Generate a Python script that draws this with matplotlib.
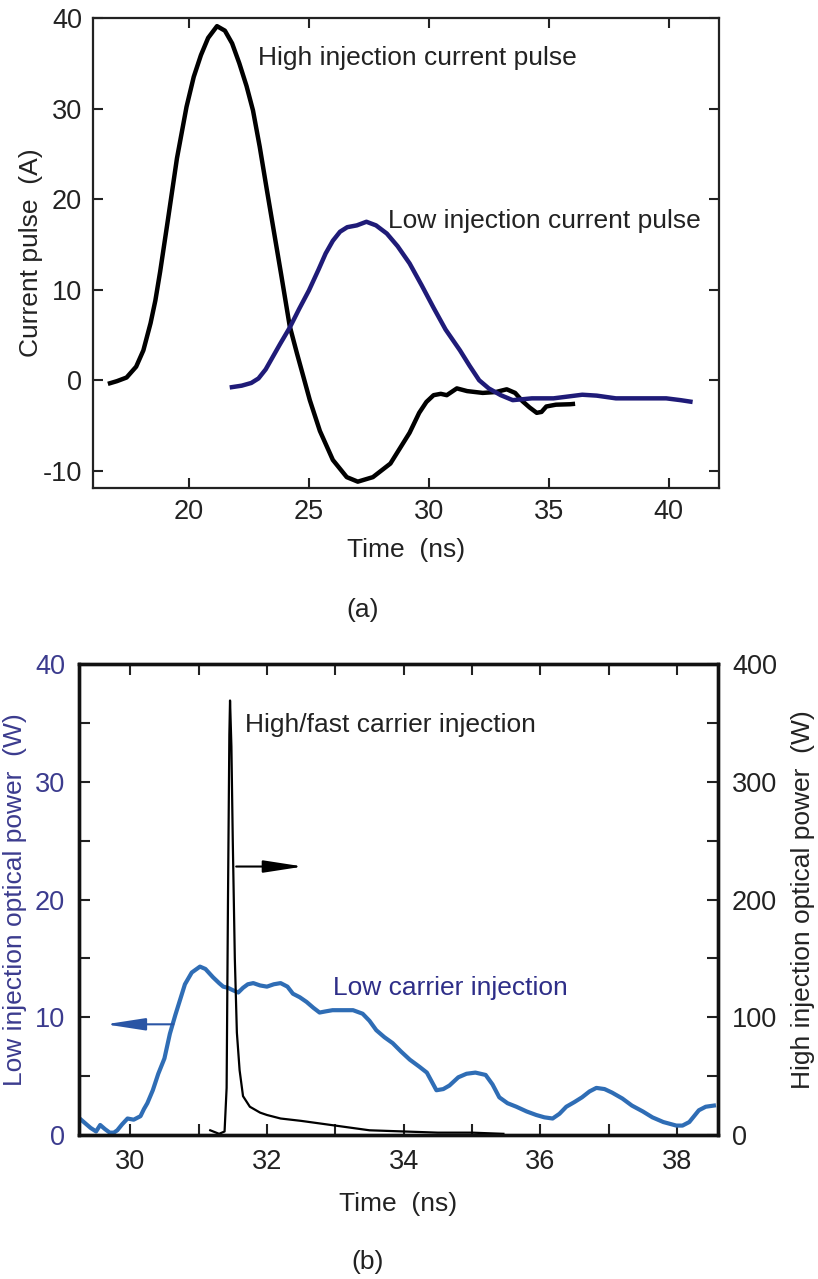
# -*- coding: utf-8 -*-
import matplotlib
matplotlib.use('Agg')  # без GUI
import matplotlib.pyplot as plt
from matplotlib.ticker import MultipleLocator

plt.rcParams['font.family'] = ['Liberation Sans', 'DejaVu Sans']
plt.rcParams['axes.unicode_minus'] = False

# --- (a) импульсы тока накачки ---
t_high_pulse = [16.62, 17.0, 17.4, 17.8, 18.1, 18.4, 18.6, 18.8, 19.1, 19.5,
                19.9, 20.2, 20.5, 20.8, 21.17, 21.5, 21.8, 22.1, 22.4, 22.67,
                22.95, 23.25, 23.55, 23.85, 24.2, 24.5, 24.75, 25.04, 25.46, 26.0,
                26.58, 27.04, 27.67, 28.4, 29.2, 29.6, 29.9, 30.2, 30.5, 30.75,
                31.17, 31.6, 32.25, 32.8, 33.25, 33.6, 33.9, 34.2, 34.5, 34.7,
                34.9, 35.3, 35.9, 36.1]
i_high_pulse = [-0.4, -0.1, 0.3, 1.5, 3.3, 6.3, 8.8, 12.0, 17.3, 24.5,
                30.2, 33.5, 35.9, 37.8, 39.1, 38.6, 37.2, 35.0, 32.5, 29.8,
                25.8, 21.0, 16.3, 11.6, 6.0, 3.0, 0.6, -2.2, -5.6, -8.8,
                -10.7, -11.2, -10.7, -9.2, -5.8, -3.6, -2.4, -1.65, -1.5, -1.65,
                -0.9, -1.2, -1.4, -1.3, -1.0, -1.4, -2.3, -3.0, -3.6, -3.5,
                -2.9, -2.7, -2.65, -2.6]

t_low_pulse = [21.7, 22.2, 22.6, 22.9, 23.2, 23.5, 23.8, 24.2, 24.6, 25.0,
               25.4, 25.7, 26.0, 26.3, 26.6, 27.0, 27.4, 27.8, 28.25, 28.7,
               29.2, 29.7, 30.2, 30.7, 31.3, 31.7, 32.1, 32.5, 33.0, 33.5,
               33.9, 34.3, 35.2, 35.8, 36.4, 37.0, 37.8, 38.8, 39.9, 40.5,
               41.0]
i_low_pulse = [-0.8, -0.6, -0.3, 0.2, 1.2, 2.6, 4.0, 5.8, 7.9, 9.9,
               12.2, 14.0, 15.4, 16.4, 16.9, 17.1, 17.5, 17.1, 16.2, 14.8,
               12.9, 10.5, 8.0, 5.6, 3.3, 1.6, 0.0, -0.9, -1.65, -2.2,
               -2.1, -2.0, -2.0, -1.8, -1.6, -1.7, -2.0, -2.0, -2.0, -2.2,
               -2.4]

# --- (b) оптическая мощность ---
t_low_opt = [29.26, 29.34, 29.42, 29.50, 29.56, 29.63, 29.70, 29.76, 29.81, 29.88,
             29.96, 30.05, 30.15, 30.20, 30.25, 30.33, 30.41, 30.50, 30.58, 30.66,
             30.73, 30.80, 30.90, 31.02, 31.10, 31.21, 31.30, 31.36, 31.43, 31.50,
             31.58, 31.65, 31.72, 31.80, 31.90, 32.00, 32.10, 32.20, 32.30, 32.38,
             32.48, 32.58, 32.68, 32.77, 32.86, 32.96, 33.10, 33.26, 33.40, 33.50,
             33.60, 33.72, 33.84, 33.96, 34.09, 34.23, 34.34, 34.48, 34.58, 34.67,
             34.80, 34.92, 35.05, 35.20, 35.30, 35.40, 35.52, 35.65, 35.80, 35.94,
             36.06, 36.18, 36.28, 36.38, 36.50, 36.61, 36.72, 36.82, 36.94, 37.05,
             37.20, 37.34, 37.50, 37.64, 37.80, 37.99, 38.08, 38.18, 38.25, 38.32,
             38.42, 38.54]
p_low_opt = [1.4, 1.0, 0.6, 0.3, 0.85, 0.5, 0.2, 0.2, 0.4, 0.9,
             1.4, 1.3, 1.6, 2.2, 2.7, 3.8, 5.2, 6.5, 8.6, 10.2,
             11.5, 12.8, 13.8, 14.3, 14.1, 13.4, 12.9, 12.6, 12.5, 12.3,
             12.1, 12.5, 12.8, 12.9, 12.7, 12.6, 12.8, 12.9, 12.6, 12.0,
             11.7, 11.3, 10.8, 10.4, 10.5, 10.6, 10.6, 10.6, 10.3, 9.7,
             8.9, 8.3, 7.8, 7.1, 6.4, 5.8, 5.3, 3.8, 3.9, 4.2,
             4.9, 5.2, 5.3, 5.1, 4.3, 3.2, 2.7, 2.4, 2.0, 1.7,
             1.5, 1.4, 1.8, 2.4, 2.8, 3.2, 3.7, 4.0, 3.9, 3.6,
             3.1, 2.5, 2.0, 1.5, 1.1, 0.8, 0.8, 1.1, 1.6, 2.1,
             2.4, 2.5]

t_high_opt = [31.17, 31.30, 31.38, 31.41, 31.43, 31.45, 31.46, 31.48, 31.50, 31.53,
              31.56, 31.60, 31.65, 31.75, 31.90, 32.00, 32.20, 32.50, 33.00, 33.50,
              34.00, 34.50, 35.00, 35.46]
p_high_opt = [4, 1, 3, 40, 200, 340, 369, 330, 250, 150,
              87, 55, 33, 24, 19, 17, 14, 12, 8, 4,
              3, 2, 2, 1]

NAVY = '#1f1b78'
TRACE_BLUE = '#2f6db5'
AXIS_BLUE = '#3b3b8e'
DARK = '#222222'
FS = 19      # подписи осей и текст
FS_TICK = 19.5

fig = plt.figure(figsize=(8.18, 12.79), dpi=100)
W, H = 818, 1279

# ================= (a) =================
ax_a = fig.add_axes([93 / W, 1 - 488 / H, 626 / W, 470 / H])
ax_a.plot(t_high_pulse, i_high_pulse, color='black', lw=3.2,
          solid_joinstyle='round', solid_capstyle='butt')
ax_a.plot(t_low_pulse, i_low_pulse, color=NAVY, lw=3.2,
          solid_joinstyle='round', solid_capstyle='butt')
ax_a.set_xlim(16, 42.1)
ax_a.set_ylim(-11.9, 40)
ax_a.set_xticks([20, 25, 30, 35, 40])
ax_a.set_yticks([-10, 0, 10, 20, 30, 40])
ax_a.tick_params(direction='in', length=7, width=1.5, top=True, right=True,
                 labelsize=FS_TICK, pad=8, colors=DARK)
for sp in ax_a.spines.values():
    sp.set_linewidth(1.6)
    sp.set_color(DARK)
ax_a.set_xlabel('Time  (ns)', fontsize=FS, color=DARK, labelpad=9)
ax_a.set_ylabel('Current pulse  (A)', fontsize=FS, color=DARK, labelpad=0)
ax_a.text(22.9, 35.6, 'High injection current pulse', fontsize=FS, color=DARK,
          va='center', ha='left')
ax_a.text(28.3, 17.6, 'Low injection current pulse', fontsize=FS, color=DARK,
          va='center', ha='left')
fig.text(363 / W, 1 - 610 / H, '(a)', fontsize=FS, ha='center', va='center', color=DARK)

# ================= (b) =================
ax_b = fig.add_axes([79 / W, 1 - 1135 / H, 639 / W, 471 / H])
ax_b.plot(t_low_opt, p_low_opt, color='#6a55a8', lw=1.2, alpha=0.8)
ax_b.plot(t_low_opt, p_low_opt, color=TRACE_BLUE, lw=3.0, solid_joinstyle='round')
ax_b.set_xlim(29.25, 38.6)
ax_b.set_ylim(0, 40)
ax_b.xaxis.set_major_locator(MultipleLocator(2))
ax_b.xaxis.set_minor_locator(MultipleLocator(1))
ax_b.yaxis.set_major_locator(MultipleLocator(10))
ax_b.yaxis.set_minor_locator(MultipleLocator(5))
ax_b.tick_params(axis='x', which='both', direction='in', length=8, width=1.5,
                 top=True, bottom=True, labelsize=FS_TICK, pad=10, colors=DARK)
ax_b.tick_params(axis='y', which='both', direction='in', length=8, width=1.5,
                 left=True, right=False, labelsize=FS_TICK, pad=10, colors=DARK,
                 labelcolor=AXIS_BLUE)
ax_b.set_xlabel('Time  (ns)', fontsize=FS, color=DARK, labelpad=12)
ax_b.set_ylabel('Low injection optical power  (W)', fontsize=FS, color=AXIS_BLUE,
                labelpad=6)

ax_r = ax_b.twinx()
ax_r.plot(t_high_opt, p_high_opt, color='black', lw=1.6)
ax_r.set_ylim(0, 400)
ax_r.yaxis.set_major_locator(MultipleLocator(100))
ax_r.yaxis.set_minor_locator(MultipleLocator(50))
ax_r.tick_params(axis='y', which='both', direction='in', length=8, width=1.5,
                 right=True, labelsize=FS_TICK, pad=10, colors=DARK)
ax_r.set_ylabel('High injection optical power  (W)', fontsize=FS, color=DARK,
                labelpad=10)
for a in (ax_b, ax_r):
    for sp in a.spines.values():
        sp.set_linewidth(2.4)
        sp.set_color('#111111')

# стрелки к осям
arrow_style = '-|>,head_length=1.1,head_width=0.17'
ax_r.annotate('', xy=(32.53, 228), xytext=(31.55, 228),
              arrowprops=dict(arrowstyle=arrow_style, color='black', lw=1.5,
                              mutation_scale=22, shrinkA=0, shrinkB=0))
ax_b.annotate('', xy=(29.64, 9.4), xytext=(30.63, 9.4),
              arrowprops=dict(arrowstyle=arrow_style, color='#2a55a5', lw=1.5,
                              mutation_scale=22, shrinkA=0, shrinkB=0))

ax_r.text(31.68, 348, 'High/fast carrier injection', fontsize=FS, color=DARK,
          va='center', ha='left')
ax_b.text(32.96, 12.5, 'Low carrier injection', fontsize=FS, color='#2e2e88',
          va='center', ha='left')
fig.text(368 / W, 1 - 1262 / H, '(b)', fontsize=FS, ha='center', va='center', color=DARK)

fig.savefig('out.png', dpi=100, facecolor='white')
